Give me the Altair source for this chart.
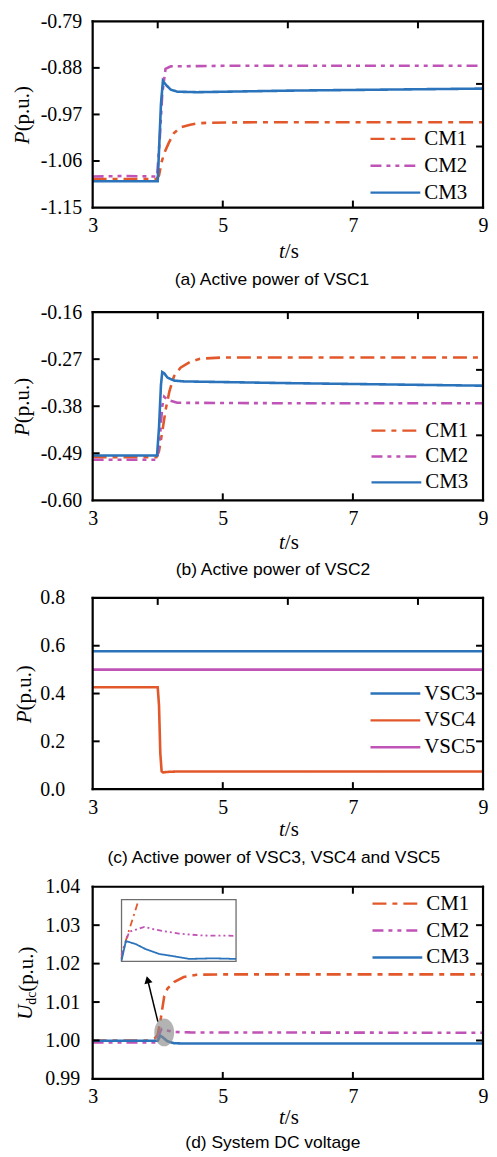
import altair as alt
import pandas as pd

SERIF = "Liberation Serif"
SANS = "Liberation Sans"
ORANGE = "#E2582A"
MAGENTA = "#C053B6"
BLUE = "#2B73BA"

CM = ["CM1", "CM2", "CM3"]
VSC = ["VSC3", "VSC4", "VSC5"]
DASH_CM1 = [14, 6, 5, 6]
DASH_CM2 = [11, 5, 4, 5, 4, 5]
SOLID = [1, 0]

X_TICKS = [3, 5, 7, 9]

# ---------------- (a) Active power of VSC1 ----------------
a_cm1_t = [3.0, 3.5, 3.98, 4.02, 4.06, 4.1, 4.17, 4.25, 4.35, 4.5, 4.62, 4.8, 5.5, 7.0, 9.0]
a_cm1_v = [-1.095, -1.095, -1.095, -1.088, -1.062, -1.045, -1.025, -1.006, -0.995, -0.990, -0.987, -0.986, -0.985, -0.985, -0.985]
a_cm2_t = [3.0, 3.5, 3.99, 4.03, 4.07, 4.12, 4.2, 5.0, 7.0, 9.0]
a_cm2_v = [-1.090, -1.089, -1.090, -1.02, -0.93, -0.882, -0.877, -0.876, -0.876, -0.876]
a_cm3_t = [3.0, 3.5, 4.0, 4.02, 4.05, 4.08, 4.12, 4.2, 4.3, 4.6, 6.0, 9.0]
a_cm3_v = [-1.099, -1.099, -1.099, -1.04, -0.95, -0.905, -0.912, -0.922, -0.926, -0.927, -0.924, -0.920]
a_ydom = [-1.15, -0.79]
a_yticks = [-1.15, -1.06, -0.97, -0.88, -0.79]
a_right = [-0.911, -1.032]
a_top = [4, 6, 8]

# ---------------- (b) Active power of VSC2 ----------------
b_cm1_t = [3.0, 3.5, 3.98, 4.02, 4.07, 4.12, 4.18, 4.25, 4.35, 4.5, 4.65, 5.0, 7.0, 9.0]
b_cm1_v = [-0.499, -0.499, -0.499, -0.485, -0.44, -0.39, -0.345, -0.31, -0.29, -0.276, -0.269, -0.266, -0.266, -0.266]
b_cm2_t = [3.0, 3.5, 3.99, 4.03, 4.07, 4.1, 4.15, 4.3, 6.0, 9.0]
b_cm2_v = [-0.505, -0.505, -0.505, -0.46, -0.38, -0.358, -0.365, -0.372, -0.373, -0.373]
b_cm3_t = [3.0, 3.5, 3.99, 4.02, 4.05, 4.07, 4.1, 4.15, 4.25, 4.4, 6.0, 9.0]
b_cm3_v = [-0.495, -0.495, -0.495, -0.43, -0.33, -0.30, -0.303, -0.313, -0.32, -0.322, -0.326, -0.332]
b_ydom = [-0.60, -0.16]
b_yticks = [-0.60, -0.49, -0.38, -0.27, -0.16]
b_right = [-0.295, -0.448]
b_top = [4, 6, 8]

# ---------------- (c) Active power of VSC3, VSC4, VSC5 ----------------
c_vsc3_t = [3.0, 9.0]
c_vsc3_v = [0.577, 0.577]
c_vsc4_t = [3.0, 4.0, 4.02, 4.04, 4.06, 4.08, 4.15, 4.3, 9.0]
c_vsc4_v = [0.426, 0.426, 0.35, 0.15, 0.075, 0.070, 0.072, 0.074, 0.074]
c_vsc5_t = [3.0, 9.0]
c_vsc5_v = [0.50, 0.50]
c_ydom = [0.0, 0.8]
c_yticks = [0.0, 0.2, 0.4, 0.6, 0.8]
c_right = [0.2, 0.4, 0.6]
c_top = [4, 6, 8]

# ---------------- (d) System DC voltage ----------------
d_cm1_t = [3.0, 3.85, 3.95, 4.0, 4.05, 4.1, 4.15, 4.25, 4.4, 4.6, 5.0, 9.0]
d_cm1_v = [1.0000, 1.0000, 1.0005, 1.0015, 1.0060, 1.0115, 1.0135, 1.0152, 1.0165, 1.0171, 1.0172, 1.0172]
d_cm2_t = [3.0, 3.98, 4.02, 4.06, 4.12, 4.25, 4.5, 9.0]
d_cm2_v = [0.9995, 0.9995, 1.0015, 1.0030, 1.0027, 1.0022, 1.0021, 1.0020]
d_cm3_t = [3.0, 4.0, 4.04, 4.08, 4.15, 4.25, 4.4, 9.0]
d_cm3_v = [0.99995, 0.99995, 1.0012, 1.0008, 0.9998, 0.9993, 0.9992, 0.9992]
d_ydom = [0.99, 1.04]
d_yticks = [0.99, 1.00, 1.01, 1.02, 1.03, 1.04]
d_right = [1.00, 1.01, 1.02, 1.03]
d_top = [5, 7]

# inset (zoom of t = 4.0 ... 4.5)
in_tdom = [4.0, 4.5]
in_vdom = [0.9989, 1.0063]
in_cm1_t = [4.0, 4.005, 4.075]
in_cm1_v = [0.9992, 1.0002, 1.0063]
in_cm2_t = [4.0, 4.033, 4.1, 4.155, 4.25, 4.35, 4.5]
in_cm2_v = [0.99964, 1.00245, 1.00304, 1.00267, 1.00223, 1.00201, 1.00197]
in_cm3_t = [4.0, 4.019, 4.0625, 4.105, 4.165, 4.235, 4.295, 4.4, 4.5]
in_cm3_v = [0.9990, 1.00134, 1.00097, 1.00038, 0.99979, 0.99949, 0.99920, 0.99927, 0.99920]

# highlight ellipse and arrow (data coordinates)
ell_t = [4.1]
ell_v = [1.0021]
arrow_t = [4.0025, 3.845]
arrow_v = [1.0049, 1.0158]
head_t = [3.845]
head_v = [1.0158]

ELLIPSE = ("M0,-1C0.394,-1 0.714,-0.552 0.714,0C0.714,0.552 0.394,1 0,1"
           "C-0.394,1 -0.714,0.552 -0.714,0C-0.714,-0.552 -0.394,-1 0,-1Z")

ONE = alt.Data(values=[{"k": 0}])
Z = 0.01  # plot-area edge (a literal 0 value is dropped by the encoder)


def long_df(names, ts, vs):
    rows = []
    for n, tt, vv in zip(names, ts, vs):
        for a, b in zip(tt, vv):
            rows.append({"t": a, "v": b, "s": n})
    return pd.DataFrame(rows)


def minus_fix(fmt):
    return "replace(format(datum.value, '%s'), '\u2212', '-')" % fmt


def text(txt, x, y, size=20, font=SERIF, style="normal", angle=0, align="center", baseline="middle"):
    kw = dict(text=txt, font=font, fontSize=size, fontStyle=style, align=align,
              baseline=baseline, color="black")
    if angle:
        kw["angle"] = angle
    return alt.Chart(ONE).mark_text(**kw).encode(x=alt.value(x), y=alt.value(y))


def vrule(x, y1, y2, **kw):
    return alt.Chart(ONE).mark_rule(**kw).encode(x=alt.value(x), y=alt.value(y1), y2=alt.value(y2))


def hrule(y, x1, x2, **kw):
    return alt.Chart(ONE).mark_rule(**kw).encode(y=alt.value(y), x=alt.value(x1), x2=alt.value(x2))


def panel(df, names, colors, dashes, W, H, ydom, yticks, yfmt, ypad, top_x, right_y,
          leg_x, leg_y, leg_dy, ytitle, xt_dy, cap, cap_x, cap_dy, bottom_ext, extra=None):
    xs = alt.Scale(domain=[3, 9], nice=False, zero=False)
    ys = alt.Scale(domain=ydom, nice=False, zero=False)
    xaxis = alt.Axis(values=X_TICKS, format="d", tickSize=0, domain=False, grid=False,
                     labelFont=SERIF, labelFontSize=20, labelColor="black",
                     labelPadding=8, labelFlush=False, labelOverlap=False, title=None)
    yaxis = alt.Axis(values=yticks, labelExpr=minus_fix(yfmt), tickSize=0, domain=False,
                     grid=False, labelFont=SERIF, labelFontSize=20, labelColor="black",
                     labelPadding=ypad, labelFlush=False, labelOverlap=False, title=None)
    X = alt.X("t:Q", scale=xs, axis=xaxis, title=None)
    Y = alt.Y("v:Q", scale=ys, axis=yaxis, title=None)

    lines = alt.Chart(df).mark_line(strokeWidth=2.6, clip=True).encode(
        x=X, y=Y,
        color=alt.Color("s:N", scale=alt.Scale(domain=names, range=colors), legend=None),
        strokeDash=alt.StrokeDash("s:N", scale=alt.Scale(domain=names, range=dashes), legend=None),
    )
    layers = [lines]

    inner_x = [v for v in X_TICKS if 3 < v < 9]
    inner_y = [v for v in yticks if ydom[0] < v < ydom[1]]
    TL = 7
    rule = dict(color="black", strokeWidth=2)
    layers.append(alt.Chart(pd.DataFrame({"t": inner_x})).mark_rule(**rule).encode(
        x=X, y=alt.value(H), y2=alt.value(H - TL)))
    layers.append(alt.Chart(pd.DataFrame({"t": top_x})).mark_rule(**rule).encode(
        x=X, y=alt.value(Z), y2=alt.value(TL)))
    layers.append(alt.Chart(pd.DataFrame({"v": inner_y})).mark_rule(**rule).encode(
        y=Y, x=alt.value(Z), x2=alt.value(TL)))
    layers.append(alt.Chart(pd.DataFrame({"v": right_y})).mark_rule(**rule).encode(
        y=Y, x=alt.value(W), x2=alt.value(W - TL)))

    if extra is not None:
        layers += extra(X, Y)

    # plot frame (four edges)
    fr = dict(color="black", strokeWidth=2.2, strokeCap="square")
    layers.append(vrule(Z, Z, H, **fr))
    layers.append(vrule(W, Z, H, **fr))
    layers.append(hrule(Z, Z, W, **fr))
    layers.append(hrule(H, Z, W, **fr))

    # legend (drawn inside the plot, no box)
    for i, (n, c, d) in enumerate(zip(names, colors, dashes)):
        yy = leg_y + i * leg_dy
        kw = dict(color=c, strokeWidth=2.4)
        if d != SOLID:
            kw["strokeDash"] = d
        layers.append(hrule(yy, leg_x, leg_x + 50, **kw))
        layers.append(text(n, leg_x + 54, yy, size=21, align="left"))

    # y title pieces (rotated)
    for (txt, x, y, size, style, align) in ytitle:
        layers.append(text(txt, x, y, size=size, style=style, angle=270, align=align))

    # x title: italic t + "/s"
    xm = W / 2 - 3
    layers.append(text("t", xm, H + xt_dy, size=21, style="italic", align="right"))
    layers.append(text("/s", xm, H + xt_dy, size=21, align="left"))

    # caption
    layers.append(text(cap, cap_x, H + cap_dy, size=17.5, font=SANS))

    # invisible extent marker for vertical spacing
    layers.append(vrule(W / 2, -10, bottom_ext, opacity=0, strokeWidth=1))

    return alt.layer(*layers).properties(width=W, height=H)


def p_title(xc, H, split):
    return [("P", xc, H / 2 + split, 21, "italic", "right"),
            ("(p.u.)", xc, H / 2 + split, 21, "normal", "left")]


W = 392

# ---- panel a
Ha = 187
df_a = long_df(CM, [a_cm1_t, a_cm2_t, a_cm3_t], [a_cm1_v, a_cm2_v, a_cm3_v])
pa = panel(df_a, CM, [ORANGE, MAGENTA, BLUE], [DASH_CM1, DASH_CM2, SOLID], W, Ha,
           a_ydom, a_yticks, ".2f", 11, a_top, a_right,
           279, 118, 27, p_title(-70, Ha, 17), 45,
           "(a) Active power of VSC1", 180, 73, 280)

# ---- panel b
Hb = 189
df_b = long_df(CM, [b_cm1_t, b_cm2_t, b_cm3_t], [b_cm1_v, b_cm2_v, b_cm3_v])
pb = panel(df_b, CM, [ORANGE, MAGENTA, BLUE], [DASH_CM1, DASH_CM2, SOLID], W, Hb,
           b_ydom, b_yticks, ".2f", 11, b_top, b_right,
           280, 119, 26, p_title(-70, Hb, 17), 43,
           "(b) Active power of VSC2", 181, 70, 275)

# ---- panel c
Hc = 192
df_c = long_df(VSC, [c_vsc3_t, c_vsc4_t, c_vsc5_t], [c_vsc3_v, c_vsc4_v, c_vsc5_v])
pc = panel(df_c, VSC, [BLUE, ORANGE, MAGENTA], [SOLID, SOLID, SOLID], W, Hc,
           c_ydom, c_yticks, ".1f", 28, c_top, c_right,
           279, 96, 27, p_title(-68, Hc, 17), 41,
           "(c) Active power of VSC3, VSC4 and VSC5", 182, 69, 278)


# ---- panel d
Hd = 193
df_d = long_df(CM, [d_cm1_t, d_cm2_t, d_cm3_t], [d_cm1_v, d_cm2_v, d_cm3_v])
df_in = long_df(CM, [in_cm1_t, in_cm2_t, in_cm3_t], [in_cm1_v, in_cm2_v, in_cm3_v])


def d_extra(X, Y):
    out = []
    out.append(alt.Chart(pd.DataFrame({"t": ell_t, "v": ell_v})).mark_point(
        shape=ELLIPSE, size=784, filled=True, color="#8a8a8a", opacity=0.65, strokeWidth=0
    ).encode(x=X, y=Y))
    out.append(alt.Chart(pd.DataFrame({"t": arrow_t, "v": arrow_v})).mark_line(
        color="black", strokeWidth=1.5).encode(x=X, y=Y))
    out.append(alt.Chart(pd.DataFrame({"t": head_t, "v": head_v})).mark_point(
        shape="triangle-up", size=70, filled=True, color="black", angle=346, opacity=1
    ).encode(x=X, y=Y))
    return out


d_main = panel(df_d, CM, [ORANGE, MAGENTA, BLUE], [DASH_CM1, DASH_CM2, SOLID], W, Hd,
               d_ydom, d_yticks, ".2f", 13, d_top, d_right,
               281, 17, 27,
               [("U", -66.7, Hd / 2 + 22, 21, "italic", "right"),
                ("dc", -61, Hd / 2 + 22, 14, "normal", "left"),
                ("(p.u.)", -66, Hd / 2 + 9, 21, "normal", "left")],
               39, "(d) System DC voltage", 181, 64, Hd, extra=d_extra)

IX = alt.Scale(domain=in_tdom, range=[29, 144], nice=False, zero=False)
IY = alt.Scale(domain=in_vdom, range=[75, 13], nice=False, zero=False)
inset_frame = alt.Chart(pd.DataFrame({"ti": [in_tdom[0]], "ti2": [in_tdom[1]],
                                      "vi": [in_vdom[0]], "vi2": [in_vdom[1]]})).mark_rect(
    fill="white", stroke="#6e6e6e", strokeWidth=1.3).encode(
    x=alt.X("ti:Q", scale=IX, axis=None), x2="ti2:Q",
    y=alt.Y("vi:Q", scale=IY, axis=None), y2="vi2:Q")
inset_lines = alt.Chart(df_in).mark_line(strokeWidth=1.8).encode(
    x=alt.X("t:Q", scale=IX, axis=None),
    y=alt.Y("v:Q", scale=IY, axis=None),
    color=alt.Color("s:N", scale=alt.Scale(domain=CM, range=[ORANGE, MAGENTA, BLUE]), legend=None),
    strokeDash=alt.StrokeDash("s:N", scale=alt.Scale(domain=CM, range=[[7, 4, 2, 4], [5, 3, 2, 3, 2, 3], SOLID]), legend=None),
)
inset = alt.layer(inset_frame, inset_lines)

pd_ = alt.layer(d_main, inset).resolve_scale(
    x="independent", y="independent", color="independent", strokeDash="independent"
).properties(width=W, height=Hd)

chart = alt.vconcat(pa, pb, pc, pd_, spacing=0).resolve_scale(
    color="independent", strokeDash="independent"
).properties(
    padding={"left": 3, "top": 0, "right": 0, "bottom": 0}
).configure_axis(
    labelFont=SERIF, labelFontSize=20, labelColor="black", tickSize=0, domain=False, grid=False
).configure_view(strokeWidth=0).configure(background="white")

chart.save("out.html", embed_options={"renderer": "svg", "actions": False})
